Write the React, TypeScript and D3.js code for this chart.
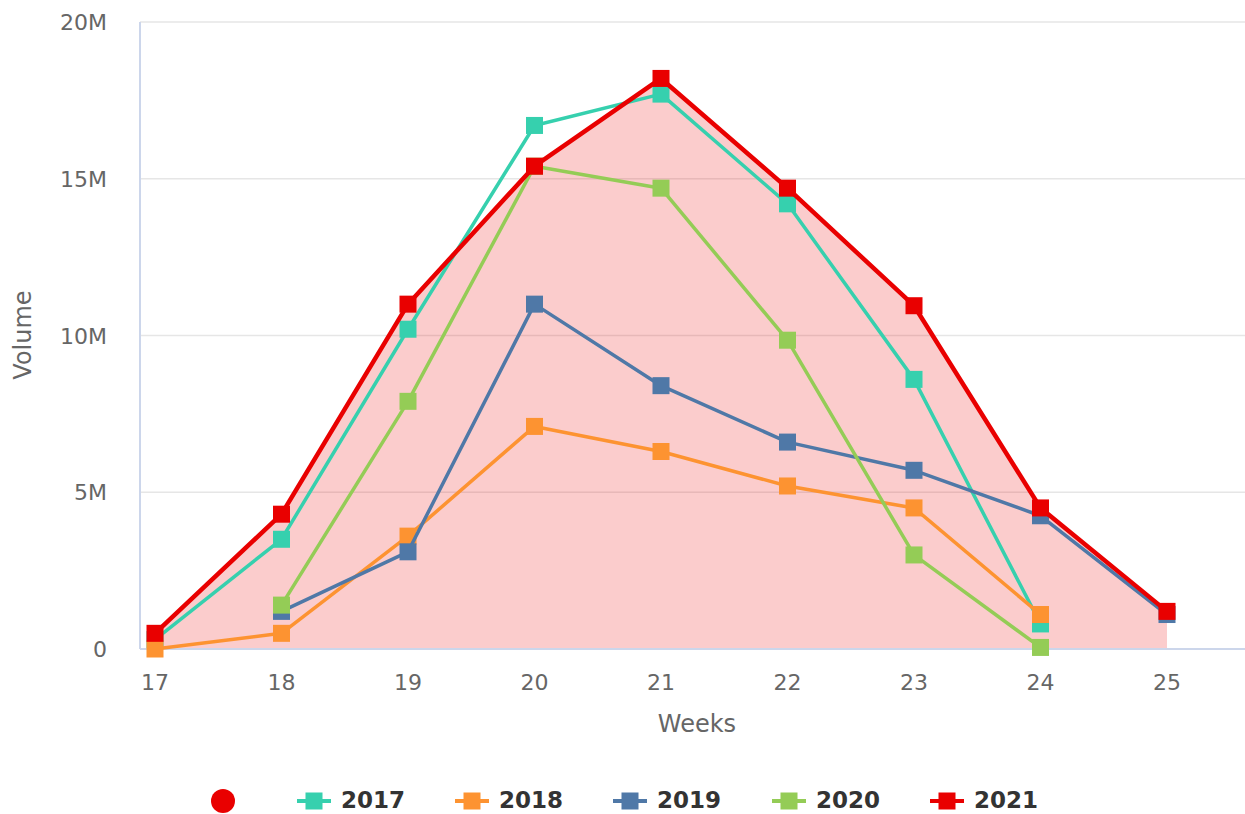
import { useEffect, useRef } from 'react'
import * as d3 from 'd3'

const weeks = [17, 18, 19, 20, 21, 22, 23, 24, 25]
const yTicks = [0, 5e6, 10e6, 15e6, 20e6]
const yTickLabels = ['0', '5M', '10M', '15M', '20M']

// null = no value that week
const v2017 = [0.3e6, 3.5e6, 10.2e6, 16.7e6, 17.7e6, 14.2e6, 8.6e6, 0.8e6, null]
const v2018 = [0, 0.5e6, 3.6e6, 7.1e6, 6.3e6, 5.2e6, 4.5e6, 1.1e6, null]
const v2019 = [null, 1.2e6, 3.1e6, 11.0e6, 8.4e6, 6.6e6, 5.7e6, 4.25e6, 1.1e6]
const v2020 = [null, 1.4e6, 7.9e6, 15.4e6, 14.7e6, 9.85e6, 3.0e6, 0.05e6, null]
const v2021 = [0.5e6, 4.3e6, 11.0e6, 15.4e6, 18.2e6, 14.7e6, 10.95e6, 4.5e6, 1.2e6]

const seriesNames = ['2017', '2018', '2019', '2020', '2021']
const seriesValues = [v2017, v2018, v2019, v2020, v2021]
const seriesColors = ['#36d0ae', '#fd9331', '#4f78a7', '#94cc56', '#e90000']

export default function App() {
  const svgRef = useRef<SVGSVGElement>(null)
  const width = 1245
  const height = 814

  useEffect(() => {
    if (!svgRef.current) return
    const svg = d3.select(svgRef.current)
    svg.selectAll('*').remove()

    const left = 140
    const right = 1245
    const top = 22
    const bottom = 649
    const font = '"DejaVu Sans", Verdana, sans-serif'

    const x = d3.scaleLinear().domain([17, 25]).range([155, 1167])
    const y = d3.scaleLinear().domain([0, 20e6]).range([bottom, top])

    // Grid
    svg.append('g')
      .selectAll('line')
      .data(yTicks.slice(1))
      .join('line')
      .attr('x1', left).attr('x2', right)
      .attr('y1', d => y(d)).attr('y2', d => y(d))
      .attr('stroke', '#e6e6e6').attr('stroke-width', 1.5)

    // Y labels
    svg.append('g')
      .selectAll('text')
      .data(yTicks)
      .join('text')
      .attr('x', 107)
      .attr('y', d => y(d) + 8)
      .attr('text-anchor', 'end')
      .attr('fill', '#666')
      .attr('font-family', font)
      .attr('font-size', 22)
      .text((d, i) => yTickLabels[i])

    // X labels
    svg.append('g')
      .selectAll('text')
      .data(weeks)
      .join('text')
      .attr('x', d => x(d))
      .attr('y', 690)
      .attr('text-anchor', 'middle')
      .attr('fill', '#666')
      .attr('font-family', font)
      .attr('font-size', 22)
      .text(d => String(d))

    // Axis titles
    svg.append('text')
      .attr('x', 697).attr('y', 732)
      .attr('text-anchor', 'middle')
      .attr('fill', '#666')
      .attr('font-family', font)
      .attr('font-size', 24)
      .text('Weeks')
    svg.append('text')
      .attr('transform', `translate(31,335) rotate(-90)`)
      .attr('text-anchor', 'middle')
      .attr('fill', '#666')
      .attr('font-family', font)
      .attr('font-size', 24)
      .text('Volume')

    // Area under 2021
    const area = d3.area<number | null>()
      .defined(d => d != null)
      .x((d, i) => x(weeks[i]))
      .y0(y(0))
      .y1(d => y(d as number))
    svg.append('path')
      .datum(v2021)
      .attr('d', area)
      .attr('fill', '#e90000')
      .attr('fill-opacity', 0.2)

    // Axis lines
    svg.append('line')
      .attr('x1', left).attr('x2', left).attr('y1', top).attr('y2', bottom)
      .attr('stroke', '#ccd6eb').attr('stroke-width', 2)
    svg.append('line')
      .attr('x1', left).attr('x2', right).attr('y1', bottom).attr('y2', bottom)
      .attr('stroke', '#ccd6eb').attr('stroke-width', 2)

    const line = d3.line<number | null>()
      .defined(d => d != null)
      .x((d, i) => x(weeks[i]))
      .y(d => y(d as number))

    seriesValues.forEach((vals, si) => {
      const color = seriesColors[si]
      const g = svg.append('g')
      g.append('path')
        .datum(vals)
        .attr('d', line)
        .attr('fill', 'none')
        .attr('stroke', color)
        .attr('stroke-width', si === 4 ? 4.5 : 3.5)
        .attr('stroke-linejoin', 'round')
      const pts = vals.map((v, i) => ({ v, w: weeks[i] })).filter(p => p.v != null)
      g.selectAll('rect')
        .data(pts)
        .join('rect')
        .attr('x', p => x(p.w) - 8.5)
        .attr('y', p => y(p.v as number) - 8.5)
        .attr('width', 17)
        .attr('height', 17)
        .attr('fill', color)
    })

    // Legend
    const lg = svg.append('g')
    lg.append('circle')
      .attr('cx', 223).attr('cy', 801).attr('r', 12)
      .attr('fill', '#e90000')
    const legendX = [297, 455, 613, 772, 930]
    seriesNames.forEach((name, i) => {
      const lx = legendX[i]
      lg.append('line')
        .attr('x1', lx).attr('x2', lx + 34)
        .attr('y1', 801).attr('y2', 801)
        .attr('stroke', seriesColors[i]).attr('stroke-width', 4)
      lg.append('rect')
        .attr('x', lx + 17 - 8.5).attr('y', 801 - 8.5)
        .attr('width', 17).attr('height', 17)
        .attr('fill', seriesColors[i])
      lg.append('text')
        .attr('x', lx + 44).attr('y', 808)
        .attr('fill', '#333')
        .attr('font-family', font)
        .attr('font-weight', 'bold')
        .attr('font-size', 23)
        .text(name)
    })
  }, [])

  return (
    <svg
      ref={svgRef}
      width={width}
      height={height}
      style={{ position: 'absolute', left: 0, top: 0, background: '#fff' }}
    />
  )
}
